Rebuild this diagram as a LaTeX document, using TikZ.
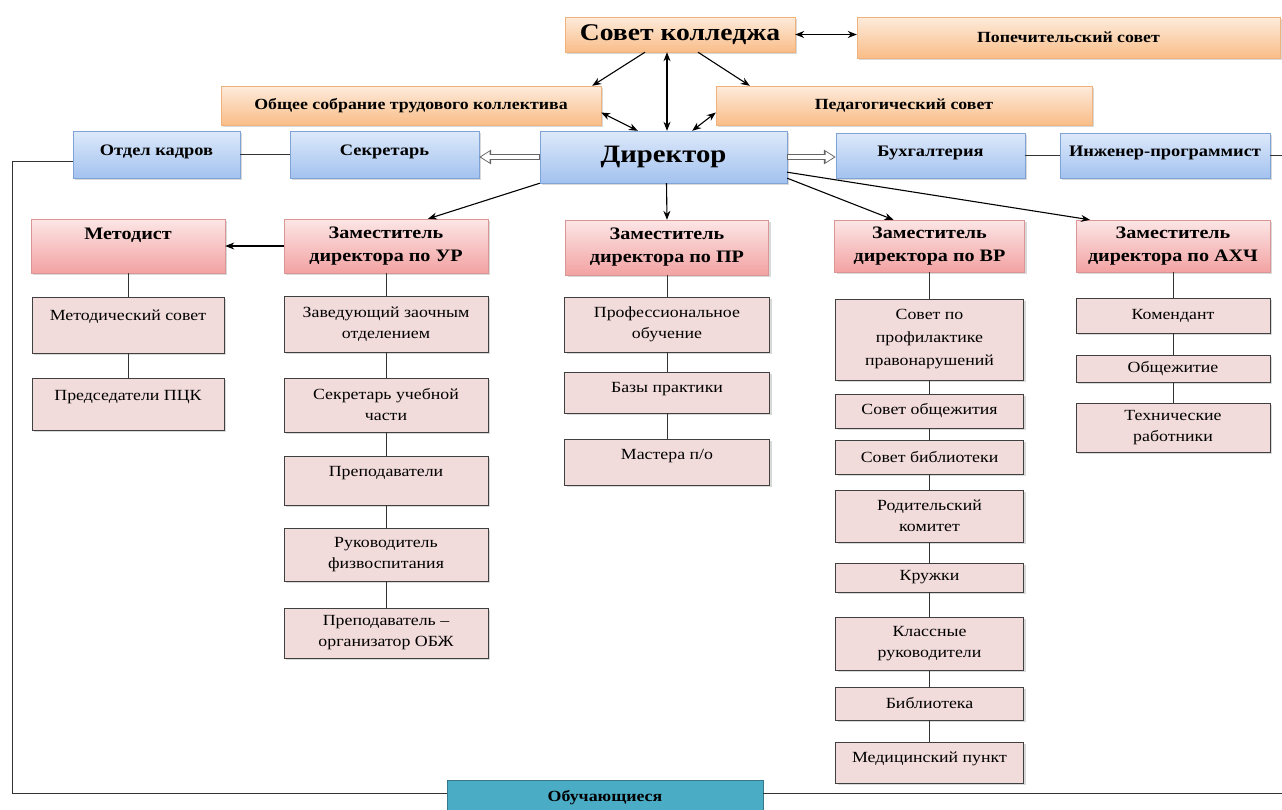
\documentclass[tikz,border=0pt]{standalone}
\usepackage{fontspec}
\setmainfont{Liberation Serif}[FakeStretch=1.15]
\usetikzlibrary{arrows.meta,shadows}
\definecolor{orangeTop}{HTML}{FDEBDB}
\definecolor{orangeBot}{HTML}{F9BD88}
\definecolor{orangeLine}{HTML}{F0B27A}
\definecolor{blueTop}{HTML}{DDE9FA}
\definecolor{blueBot}{HTML}{A3C2EF}
\definecolor{blueLine}{HTML}{7FA3D6}
\definecolor{pinkTop}{HTML}{FCE6E6}
\definecolor{pinkBot}{HTML}{F3A2A2}
\definecolor{pinkLine}{HTML}{D99694}
\definecolor{unitFill}{HTML}{F2DCDB}
\definecolor{learnFill}{HTML}{4BACC6}
\tikzset{
	box/.style={rectangle, align=center, inner sep=2pt, drop shadow={shadow xshift=2pt, shadow yshift=-2pt, opacity=0.3}},
	orangebox/.style={box, draw=orangeLine, top color=orangeTop, bottom color=orangeBot, font=\bfseries\fontsize{15.5}{18}\selectfont},
	bluebox/.style={box, draw=blueLine, top color=blueTop, bottom color=blueBot, font=\bfseries\fontsize{16}{18}\selectfont},
	zambox/.style={box, draw=pinkLine, top color=pinkTop, bottom color=pinkBot, font=\bfseries\fontsize{17.5}{23}\selectfont},
	unitbox/.style={box, draw=black!75, line width=0.9pt, fill=unitFill, font=\fontsize{15.5}{21}\selectfont},
	learnbox/.style={rectangle, draw=learnFill!70!black, fill=learnFill, font=\bfseries\fontsize{15.5}{18}\selectfont},
	link/.style={draw=black!80, line width=0.9pt},
	arr/.style={draw=black, line width=1.1pt, -{Stealth[length=9pt, width=7pt]}},
	arrboth/.style={draw=black, line width=1.1pt, {Stealth[length=9pt, width=7pt]}-{Stealth[length=9pt, width=7pt]}},
	hollowout/.style={draw=black!60, line width=6pt, -{Triangle[length=12pt, width=14pt]}},
	hollowin/.style={draw=white, line width=4pt, shorten <=1pt, shorten >=1.8pt, -{Triangle[length=8.5pt, width=10pt]}}
}
\begin{document}
\begin{tikzpicture}[x=1pt, y=-1pt]
	\useasboundingbox ( 0, 0 ) rectangle ( 1282, 809 );
	\node [orangebox, minimum width=230, minimum height=35, font=\bfseries\fontsize{24}{28}\selectfont] (sovet) at ( 680, 34.5 ) {Совет колледжа};
	\node [orangebox, minimum width=423, minimum height=41] (popech) at ( 1068.5, 37.5 ) {Попечительский совет};
	\node [orangebox, minimum width=380, minimum height=39] (sobranie) at ( 411, 105.5 ) {Общее собрание трудового коллектива};
	\node [orangebox, minimum width=376, minimum height=39] (pedsovet) at ( 904, 105.5 ) {Педагогический совет};
	\node [bluebox, minimum width=247, minimum height=52, font=\bfseries\fontsize{25}{30}\selectfont] (director) at ( 663.5, 157 ) {Директор};
	\node [bluebox, minimum width=167, minimum height=47, text depth=8pt] (kadry) at ( 156.5, 154.5 ) {Отдел кадров};
	\node [bluebox, minimum width=189, minimum height=47, text depth=8pt] (sekretar) at ( 384.5, 154.5 ) {Секретарь};
	\node [bluebox, minimum width=189, minimum height=45, text depth=8pt] (buh) at ( 930.5, 155.5 ) {Бухгалтерия};
	\node [bluebox, minimum width=210, minimum height=45, text depth=8pt] (inzh) at ( 1165, 155.5 ) {Инженер-программист};
	\node [zambox, minimum width=194, minimum height=54, text depth=24pt] (metodist) at ( 128, 246 ) {Методист};
	\node [zambox, minimum width=204, minimum height=54] (zamUR) at ( 386, 246 ) {Заместитель\\директора по УР};
	\node [zambox, minimum width=203, minimum height=55] (zamPR) at ( 667, 247.5 ) {Заместитель\\директора по ПР};
	\node [zambox, minimum width=190, minimum height=52] (zamVR) at ( 929.5, 246 ) {Заместитель\\директора по ВР};
	\node [zambox, minimum width=194, minimum height=52] (zamAHCH) at ( 1173, 246 ) {Заместитель\\директора по АХЧ};
	\node [unitbox, minimum width=192, minimum height=56, text depth=20pt] (msovet) at ( 128, 325 ) {Методический совет};
	\node [unitbox, minimum width=192, minimum height=52, text depth=18pt] (pck) at ( 128, 404 ) {Председатели ПЦК};
	\node [unitbox, minimum width=204, minimum height=56] (zaoch) at ( 386, 324 ) {Заведующий заочным\\отделением};
	\node [unitbox, minimum width=204, minimum height=54] (sekUch) at ( 386, 405 ) {Секретарь учебной\\части};
	\node [unitbox, minimum width=204, minimum height=49, text depth=18pt] (prep) at ( 386, 480.5 ) {Преподаватели};
	\node [unitbox, minimum width=204, minimum height=53] (fizv) at ( 386, 554.5 ) {Руководитель\\физвоспитания};
	\node [unitbox, minimum width=204, minimum height=50] (obzh) at ( 386, 633 ) {Преподаватель –\\организатор ОБЖ};
	\node [unitbox, minimum width=205, minimum height=55] (prof) at ( 667, 324.5 ) {Профессиональное\\обучение};
	\node [unitbox, minimum width=205, minimum height=41, text depth=10pt] (bazy) at ( 667, 392.5 ) {Базы практики};
	\node [unitbox, minimum width=205, minimum height=46, text depth=16pt] (mastera) at ( 667, 462 ) {Мастера п/о};
	\node [unitbox, minimum width=188, minimum height=81, font=\fontsize{15.5}{23}\selectfont] (profil) at ( 929.5, 339.5 ) {Совет по\\профилактике\\правонарушений};
	\node [unitbox, minimum width=188, minimum height=34] (sovObsh) at ( 929.5, 411 ) {Совет общежития};
	\node [unitbox, minimum width=188, minimum height=34] (sovBib) at ( 929.5, 457 ) {Совет библиотеки};
	\node [unitbox, minimum width=188, minimum height=52] (rodit) at ( 929.5, 516 ) {Родительский\\комитет};
	\node [unitbox, minimum width=188, minimum height=29] (kruzhki) at ( 929.5, 577.5 ) {Кружки};
	\node [unitbox, minimum width=188, minimum height=53] (klass) at ( 929.5, 643.5 ) {Классные\\руководители};
	\node [unitbox, minimum width=188, minimum height=33] (bibl) at ( 929.5, 703.5 ) {Библиотека};
	\node [unitbox, minimum width=188, minimum height=41, text depth=10pt] (med) at ( 929.5, 762.5 ) {Медицинский пункт};
	\node [unitbox, minimum width=194, minimum height=35] (komend) at ( 1173, 315.5 ) {Комендант};
	\node [unitbox, minimum width=194, minimum height=27] (obsh) at ( 1173, 368.5 ) {Общежитие};
	\node [unitbox, minimum width=194, minimum height=49] (tech) at ( 1173, 427.5 ) {Технические\\работники};
	\node [learnbox, minimum width=316, minimum height=35] (learn) at ( 605, 797.5 ) {Обучающиеся};
	\coordinate (edgeL) at ( 12, 793 );
	\coordinate (edgeTopR) at ( 1282, 157 );
	\coordinate (edgeBotR) at ( 1282, 793 );
	\draw [arrboth] (sovet.east) -- (sovet.east -| popech.west);
	\draw [arr] ([xshift=-35pt]sovet.south) -- ([xshift=-9pt]sobranie.north east);
	\draw [arr] ([xshift=18pt]sovet.south) -- ([xshift=34pt]pedsovet.north west);
	\draw [arrboth] ([xshift=-13pt]sovet.south) -- ([xshift=-13pt]sovet.south |- director.north);
	\draw [arrboth] ([yshift=-7pt]sobranie.east) -- ([xshift=98pt]director.north west);
	\draw [arrboth] ([yshift=-7pt]pedsovet.west) -- ([xshift=-95pt]director.north east);
	\draw [hollowout] (director.west) -- (director.west -| sekretar.east);
	\draw [hollowin] (director.west) -- (director.west -| sekretar.east);
	\draw [hollowout] (director.east) -- (director.east -| buh.west);
	\draw [hollowin] (director.east) -- (director.east -| buh.west);
	\draw [link] (kadry) -- (sekretar);
	\draw [link] (buh) -- (inzh);
	\draw [link] (inzh.east) -- (inzh.east -| edgeTopR);
	\draw [link] ([yshift=-7pt]kadry.west) -| (edgeL) -- (edgeL -| learn.west);
	\draw [link] (edgeBotR -| learn.east) -- (edgeBotR);
	\draw [arr] (director.south west) -- ([xshift=42pt]zamUR.north);
	\draw [arr] ([xshift=3pt]director.south) -- (zamPR.north);
	\draw [arr] ([yshift=5pt]director.south east) -- ([xshift=-36pt]zamVR.north);
	\draw [arr] ([yshift=11pt]director.south east) -- ([xshift=-83pt]zamAHCH.north);
	\draw [arr] (zamUR.west) -- (metodist.east);
	\draw [link] (metodist) -- (msovet) -- (pck);
	\draw [link] (zamUR) -- (zaoch) -- (sekUch) -- (prep) -- (fizv) -- (obzh);
	\draw [link] (zamPR) -- (prof) -- (bazy) -- (mastera);
	\draw [link] (zamVR) -- (profil) -- (sovObsh) -- (sovBib) -- (rodit) -- (kruzhki) -- (klass) -- (bibl) -- (med);
	\draw [link] (zamAHCH) -- (komend) -- (obsh) -- (tech);
\end{tikzpicture}
\end{document}
